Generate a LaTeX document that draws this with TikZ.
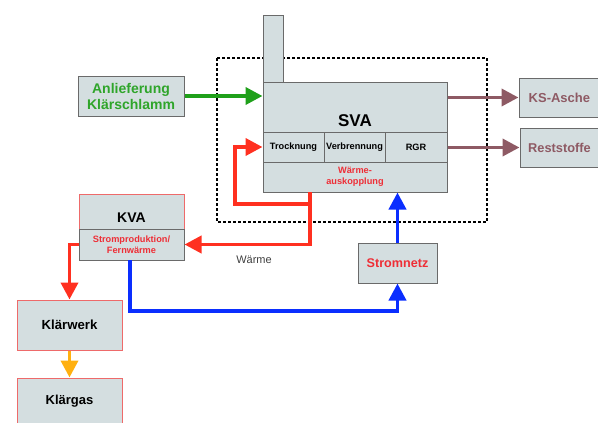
\documentclass[tikz,border=0pt]{standalone}
\usepackage{fontspec}
\setmainfont{Liberation Sans}
\usetikzlibrary{arrows.meta,calc}
\definecolor{boxfill}{HTML}{D4DEE0}
\definecolor{boxdraw}{HTML}{6A6A6A}
\definecolor{grn}{HTML}{2FA52A}
\definecolor{grnarrow}{HTML}{1FA01A}
\definecolor{brn}{HTML}{8E5A64}
\definecolor{redarr}{HTML}{FF3020}
\definecolor{redtxt}{HTML}{EE2E36}
\definecolor{redborder}{HTML}{EE6A6A}
\definecolor{blu}{HTML}{0A2EFF}
\definecolor{orng}{HTML}{FFB010}
\tikzset{
  box/.style={draw=boxdraw, fill=boxfill, line width=1pt, inner sep=0pt, align=center, font=\bfseries},
  redbox/.style={box, draw=redborder},
  conn/.style={line width=3.8pt, -{Triangle[length=17pt,width=17pt]}},
  cell/.style={box, minimum height=30pt, font=\bfseries\fontsize{9.2}{11}\selectfont},
}
\begin{document}
\begin{tikzpicture}[x=1pt,y=-1pt]
\useasboundingbox (0,0) rectangle (598,423);
% dotted frame
\draw[line width=2.8pt, dash pattern=on 2.6pt off 2.4pt] (217,58) rectangle (487,222);
% chimney and SVA
\node[box, minimum width=20pt, minimum height=67pt] (chim) at (273,48.5) {};
\node[box, minimum width=184pt, minimum height=110pt] (sva) at (355,137) {};
\node[font=\bfseries\fontsize{17}{19}\selectfont] (svat) at (355,120.5) {SVA};
\node[cell, minimum width=61pt] (troc) at (293.5,147) {Trocknung};
\node[cell, minimum width=61pt] (verb) at (354.5,147) {Verbrennung};
\node[cell, minimum width=62pt] (rgr) at (416,147) {RGR};
\node[box, minimum width=184pt, minimum height=30pt, text=redtxt, font=\bfseries\fontsize{9.2}{11.5}\selectfont] (wa) at (355,177) {Wärme-\\auskopplung};
% other boxes
\node[box, minimum width=106pt, minimum height=40pt, text=grn, font=\bfseries\fontsize{14}{16}\selectfont] (anl) at (131,96) {Anlieferung\\Klärschlamm};
\node[box, minimum width=85pt, minimum height=39pt] (ksa) at (561.5,97.5) {};
\node[anchor=west, text=brn, font=\bfseries\fontsize{13}{15}\selectfont, inner sep=0pt] (ksat) at (528.5,97.5) {KS-Asche};
\node[box, minimum width=85pt, minimum height=39pt] (rst) at (562.5,147.5) {};
\node[anchor=west, text=brn, font=\bfseries\fontsize{12.8}{15}\selectfont, inner sep=0pt] (rstt) at (528,147.5) {Reststoffe};
\node[redbox, minimum width=105pt, minimum height=66pt] (kva) at (131.5,227) {};
\node[font=\bfseries\fontsize{14}{16}\selectfont] (kvat) at (131.5,218) {KVA};
\node[box, minimum width=105pt, minimum height=31pt, text=redtxt, font=\bfseries\fontsize{9.2}{11}\selectfont] (kvalow) at (131.5,244.5) {Stromproduktion/\\Fernwärme};
\node[box, minimum width=79pt, minimum height=40pt, text=redtxt, font=\bfseries\fontsize{12.6}{14}\selectfont] (strom) at (397.5,263) {Stromnetz};
\node[redbox, minimum width=105pt, minimum height=50pt, font=\bfseries\fontsize{13.2}{15}\selectfont] (klw) at (69.5,325) {Klärwerk};
\node[redbox, minimum width=105pt, minimum height=52pt] (klg) at (69.5,404) {};
\node[font=\bfseries\fontsize{13}{15}\selectfont] (klgt) at (69.5,401) {Klärgas};
\node[text=black!75, font=\fontsize{11}{13}\selectfont] (wlab) at (254,260) {Wärme};
% connectors
\draw[conn, grnarrow] (anl.east) -- (anl.east -| sva.west);
\draw[conn, brn] (ksa.west -| sva.east) -- (ksa.west);
\draw[conn, brn] (rst.west -| sva.east) -- (rst.west);
\coordinate (rA) at (310,192);
\coordinate (rB) at (310,204);
\coordinate (rC) at (235,147);
\draw[conn, redarr] (rA) |- (kvalow.east);
\draw[conn, redarr] (rB) -| (rC) -- (troc.west);
\draw[conn, redarr] (kvalow.west) -| (klw.north);
\draw[conn, orng] (klw.south) -- (klg.north);
\coordinate (bA) at (130,260);
\coordinate (bB) at (130,311);
\draw[conn, blu] (bA) -- (bB) -| (strom.south);
\draw[conn, blu] (strom.north) -- (strom.north |- sva.south);
\end{tikzpicture}
\end{document}
